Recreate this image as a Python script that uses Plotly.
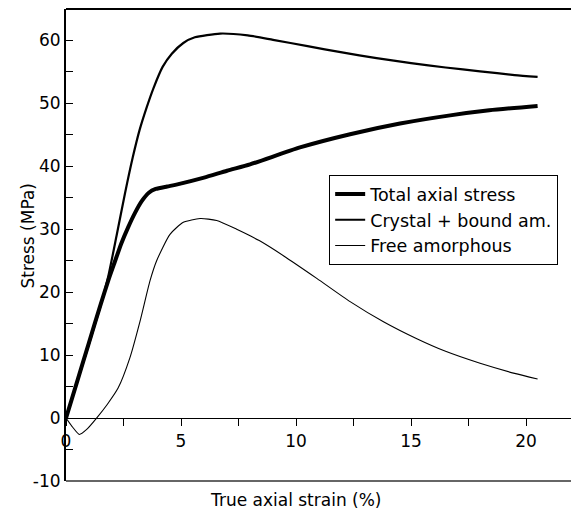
import plotly.graph_objects as go

# Stress-strain curves
strain_total = [0, 0.5, 1.0, 1.5, 1.85, 2.1, 2.4, 2.7, 3.0, 3.3, 3.6, 3.9, 4.4, 4.8, 6.0, 7.0,
                8.0, 10.17, 12.35, 14.52, 16.7, 18.4, 20.5]
stress_total = [0, 6.0, 12.0, 18.0, 22.0, 24.6, 27.7, 30.3, 32.6, 34.5, 35.8, 36.4, 36.8, 37.1, 38.2, 39.3,
                40.3, 43.0, 45.1, 46.8, 48.1, 48.9, 49.6]

strain_crystal = [0, 0.5, 1.0, 1.5, 1.83, 2.2, 2.57, 2.9, 3.2, 3.5, 3.8, 4.2, 4.6, 5.1, 5.6, 6.7,
                  7.9, 9.0, 10.5, 12.0, 13.5, 15.0, 16.5, 18.0, 19.5, 20.5]
stress_crystal = [0, 5.9, 11.8, 17.8, 22.4, 29.0, 35.8, 41.4, 45.8, 49.3, 52.4, 55.8, 57.9, 59.6, 60.5, 61.1,
                  60.8, 60.1, 59.1, 58.1, 57.2, 56.4, 55.7, 55.1, 54.5, 54.2]

strain_free = [0, 0.3, 0.58, 0.9, 1.33, 1.8, 2.27, 2.78, 3.22, 3.65, 3.94, 4.52, 5.1, 5.83, 6.55,
               7.42, 8.4, 9.45, 10.9, 12.35, 13.8, 15.25, 16.5, 18.0, 19.5, 20.5]
stress_free = [0, -1.5, -2.6, -1.8, 0, 2.2, 4.8, 9.6, 15.4, 21.8, 25.0, 29.2, 31.1, 31.7, 31.4,
               30.0, 28.2, 25.8, 22.2, 18.5, 15.3, 12.6, 10.6, 8.7, 7.1, 6.2]

series_names = ["Total axial stress", "Crystal + bound am.", "Free amorphous"]

y_tickvals = [-10, 0, 10, 20, 30, 40, 50, 60]
y_ticktext = ["-10", "0", "10", "20", "30", "40", "50", "60"]

FONT = "DejaVu Sans"

fig = go.Figure()
for name, xs, ys, w in [(series_names[0], strain_total, stress_total, 4),
                        (series_names[1], strain_crystal, stress_crystal, 2.2),
                        (series_names[2], strain_free, stress_free, 1.1)]:
    fig.add_trace(go.Scatter(x=xs, y=ys, mode="lines", name=name,
                             line=dict(color="black", width=w, shape="spline", smoothing=0.6)))

# frame lines: top border and bottom line at -10
fig.add_shape(type="line", xref="paper", yref="paper", x0=0, x1=1, y0=1, y1=1,
              line=dict(color="black", width=2))
fig.add_shape(type="line", xref="paper", yref="paper", x0=0, x1=1, y0=0, y1=0,
              line=dict(color="#333333", width=1.4))

fig.add_annotation(x=10, xref="x", y=0, yref="paper", yanchor="middle", yshift=-19,
                   text="True axial strain (%)", showarrow=False, font=dict(size=17))
fig.add_annotation(x=0, xref="paper", xshift=-50, y=29, yref="y", textangle=-90,
                   text="Stress (MPa)", showarrow=False, font=dict(size=17))

# page body has an 8px margin, so the figure is 8px smaller and margins shifted
fig.update_layout(
    width=571, height=513,
    margin=dict(l=58, r=0, t=1, b=40),
    plot_bgcolor="white", paper_bgcolor="white",
    font=dict(family=FONT, size=17, color="black"),
    xaxis=dict(range=[0, 22.3], anchor="free", position=10 / 75,
               showline=True, linecolor="black", linewidth=1.2,
               ticks="outside", ticklen=7, tickwidth=1, tickcolor="black",
               tick0=0, dtick=5,
               minor=dict(dtick=2.5, ticks="outside", ticklen=7, tickcolor="black", tickwidth=1),
               showgrid=False, zeroline=False),
    yaxis=dict(range=[-10, 65], showline=True, linecolor="black", linewidth=2,
               ticks="inside", ticklen=7, tickwidth=1, tickcolor="black",
               tickvals=y_tickvals, ticktext=y_ticktext,
               minor=dict(tickvals=[-5, 5, 15, 25, 35, 45, 55], ticks="inside", ticklen=7,
                          tickcolor="black", tickwidth=1),
               showgrid=False, zeroline=False),
    legend=dict(x=0.513, y=0.648, xanchor="left", yanchor="top",
                bordercolor="black", borderwidth=1, bgcolor="white",
                font=dict(size=17.5)),
)

fig.write_html("out.html")
